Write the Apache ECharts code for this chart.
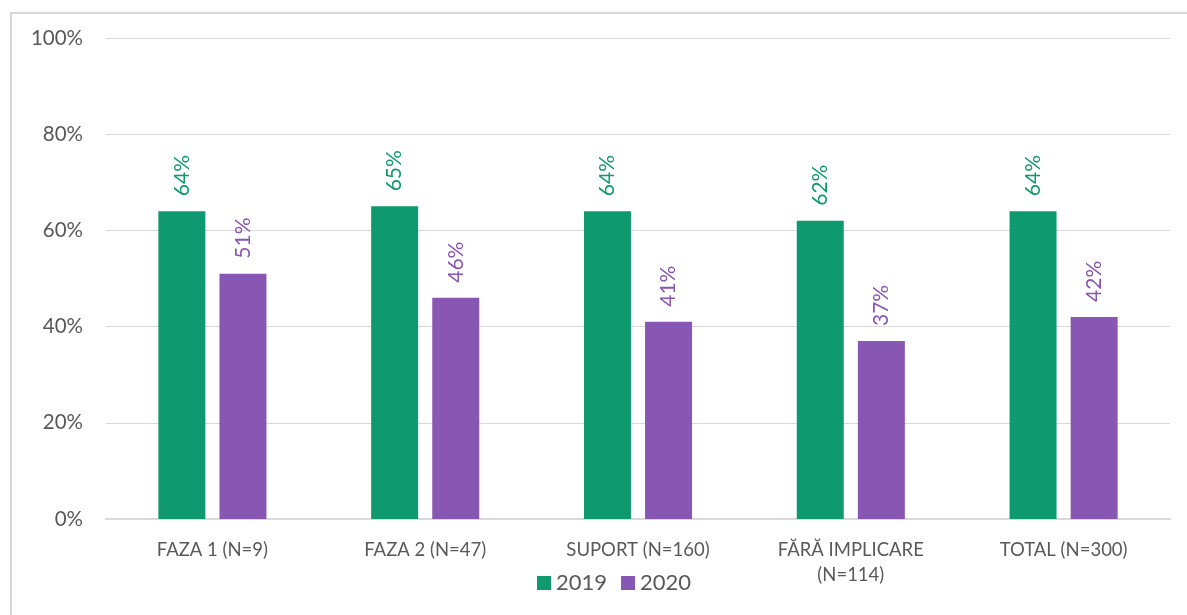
<!DOCTYPE html>
<html>
<head>
<meta charset="utf-8">
<script src="https://cdn.jsdelivr.net/npm/echarts@6/dist/echarts.min.js"></script>
<style>
    html, body { margin: 0; padding: 0; background: #fff; overflow: hidden; }
    #frame { position: absolute; left: 10px; top: 12px; width: 1200px; height: 620px; border: 2px solid #d9d9d9; box-sizing: border-box; }
    #chart { position: absolute; left: 0; top: 0; width: 1187px; height: 615px; }
</style>
</head>
<body>
<div id="frame"></div>
<div id="chart"></div>
<script>
// categorii si valori (%)
var categories = ['FAZA 1 (N=9)', 'FAZA 2 (N=47)', 'SUPORT (N=160)', 'FĂRĂ IMPLICARE\n(N=114)', 'TOTAL (N=300)'];
var values2019 = [64, 65, 64, 62, 64];
var values2020 = [51, 46, 41, 37, 42];
var yTicks = [0, 20, 40, 60, 80, 100];

var chart = echarts.init(document.getElementById('chart'));

function barLabel(color) {
    return {
        show: true,
        position: 'top',
        rotate: 90,
        align: 'left',
        verticalAlign: 'middle',
        distance: 15,
        color: color,
        fontSize: 21,
        fontFamily: 'Lato',
        formatter: '{c}%'
    };
}

var option = {
    backgroundColor: 'transparent',
    animation: false,
    grid: {
        left: 106,
        right: 17,
        top: 38,
        bottom: 96
    },
    legend: {
        data: ['2019', '2020'],
        left: 532,
        top: 567,
        itemWidth: 14,
        itemHeight: 14,
        itemGap: 14,
        icon: 'rect',
        textStyle: { color: '#595959', fontSize: 22, fontFamily: 'Lato' }
    },
    xAxis: {
        type: 'category',
        data: categories,
        axisTick: { show: false },
        axisLine: { lineStyle: { color: '#d9d9d9', width: 2 } },
        axisLabel: {
            color: '#595959',
            fontSize: 18.5,
            fontFamily: 'Lato',
            margin: 19,
            interval: 0,
            lineHeight: 25
        }
    },
    yAxis: {
        type: 'value',
        min: yTicks[0],
        max: yTicks[yTicks.length - 1],
        interval: 20,
        axisLine: { show: false },
        axisTick: { show: false },
        axisLabel: {
            color: '#595959',
            fontSize: 20.5,
            fontFamily: 'Lato',
            margin: 23,
            formatter: '{value}%'
        },
        splitLine: { lineStyle: { color: '#d9d9d9', width: 1 } }
    },
    series: [{
        name: '2019',
        type: 'bar',
        barWidth: 47,
        barGap: '30%',
        itemStyle: { color: '#0e9a6e' },
        label: barLabel('#0e9a6e'),
        data: values2019
    }, {
        name: '2020',
        type: 'bar',
        barWidth: 47,
        itemStyle: { color: '#8856b3' },
        label: barLabel('#8856b3'),
        data: values2020
    }]
};
chart.setOption(option);
</script>
</body>
</html>
